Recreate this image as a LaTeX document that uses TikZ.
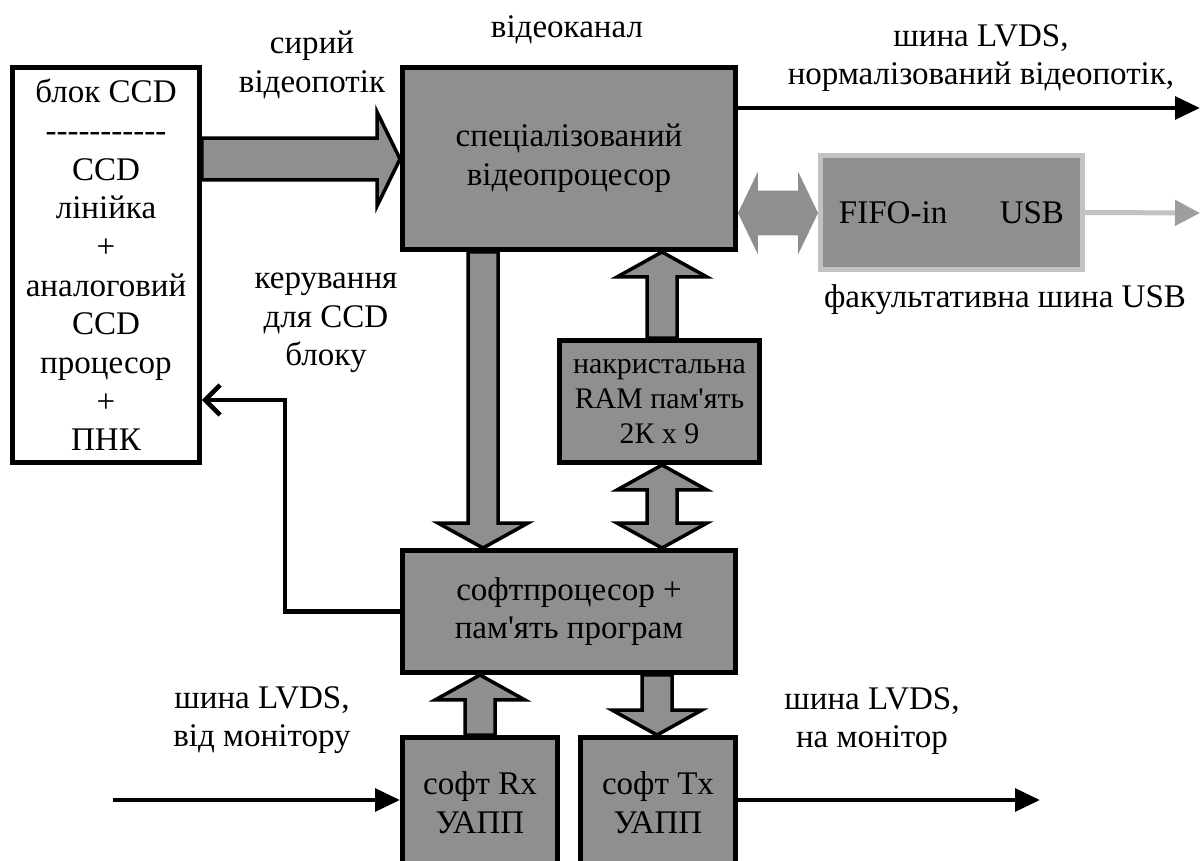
\documentclass[tikz,border=0pt]{standalone}
\usepackage{fontspec}
\setmainfont{Liberation Serif}
\usetikzlibrary{arrows.meta,calc}
\definecolor{BGray}{rgb}{0.56,0.56,0.56}
\definecolor{LGray}{rgb}{0.76,0.76,0.76}
\definecolor{MGray}{rgb}{0.62,0.62,0.62}
\tikzset{
  blk/.style={draw, line width=0.1cm, fill=BGray, align=center, inner sep=0pt},
  fat/.style={fill=BGray, draw=black, line width=0.07cm, line join=miter},
  wire/.style={line width=0.09cm, -{Triangle[length=0.5cm,width=0.45cm]}},
  lbl/.style={align=center, inner sep=0pt}}
\newcommand{\hy}{\mbox{-}}
\newcommand{\ap}{\textquotesingle}
% fat arrow, vertical: x (px), tail, tip
\newcommand{\fatv}[3]{%
  \filldraw[fat] let \p1=(#1,0 |- #2), \p2=(#1,0 |- #3),
    \n1={0.5cm*(\y2-\y1)/abs(\y2-\y1)} in
    ({\x1-0.3cm},\y1) -- ({\x1-0.3cm},{\y2-\n1}) -- ({\x1-0.9cm},{\y2-\n1}) -- (\x2,\y2)
    -- ({\x1+0.9cm},{\y2-\n1}) -- ({\x1+0.3cm},{\y2-\n1}) -- ({\x1+0.3cm},\y1) -- cycle;}
% same, with two heads
\newcommand{\fatvv}[3]{%
  \filldraw[fat] let \p1=(#1,0 |- #2), \p2=(#1,0 |- #3),
    \n1={0.5cm*(\y2-\y1)/abs(\y2-\y1)} in
    (\x1,\y1) -- ({\x1-0.9cm},{\y1+\n1}) -- ({\x1-0.3cm},{\y1+\n1}) -- ({\x1-0.3cm},{\y2-\n1})
    -- ({\x1-0.9cm},{\y2-\n1}) -- (\x2,\y2) -- ({\x1+0.9cm},{\y2-\n1}) -- ({\x1+0.3cm},{\y2-\n1})
    -- ({\x1+0.3cm},{\y1+\n1}) -- ({\x1+0.9cm},{\y1+\n1}) -- cycle;}

\begin{document}
\begin{tikzpicture}[x=0.02cm, y=-0.02cm, font=\fontsize{18.8}{22}\selectfont]
\useasboundingbox (0,0) rectangle (1200,861);

% blocks
\node[blk, fill=white, minimum width=3.74cm, minimum height=7.9cm] (ccd) at (106,265)
  {блок CCD\\\hy\hy\hy\hy\hy\hy\hy\hy\hy\hy\hy\\CCD\\лінійка\\+\\аналоговий\\CCD\\процесор\\+\\ПНК};
\node[blk, minimum width=6.66cm, minimum height=3.64cm] (vp) at (569,158.5) {спеціалізований\\відеопроцесор};
\node[blk, draw=LGray, minimum width=5.24cm, minimum height=2.28cm] (fifo) at (951.5,212.5) {FIFO-in\hspace{1.05cm}USB};
\node[blk, minimum width=4cm, minimum height=2.44cm, font=\fontsize{17}{20}\selectfont] (ram) at (659.5,401.5)
  {накристальна\\RAM пам\ap ять\\2К х 9};
\node[blk, minimum width=6.66cm, minimum height=2.44cm] (soft) at (569,611.5) {софтпроцесор +\\пам\ap ять програм};
\node[blk, minimum width=3.1cm, minimum height=2.6cm] (rx) at (480,802.5) {софт Rx\\УАПП};
\node[blk, minimum width=3.1cm, minimum height=2.6cm] (tx) at (658,802.5) {софт Tx\\УАПП};

% labels
\node[lbl] (lraw) at (312,65) {сирий\\відеопотік};
\node[lbl] (lvc) at (567,30) {відеоканал};
\node[lbl] (lout) at (981,58) {шина LVDS,\\нормалізований відеопотік,};
\node[lbl] (lusb) at (1005,300) {факультативна шина USB};
\node[lbl] (lctl) at (326,323) {керування\\для CCD\\блоку};
\node[lbl] (lin) at (262,720) {шина LVDS,\\від монітору};
\node[lbl] (ltx) at (872,721) {шина LVDS,\\на монітор};

\coordinate (vout) at (1200,108);
\coordinate (uout) at (1200,213);
\coordinate (rin) at (113,800);
\coordinate (tout) at (1040,800);
\coordinate (fbk) at (285,400);

% thin links
\draw[wire] (vp.east |- vout) -- (vout);
\draw[wire, draw=LGray, line width=0.1cm, -{Triangle[length=0.5cm,width=0.5cm,color=MGray]}] (fifo.east) -- (uout);
\draw[wire] (rin) -- (rx.west |- rin);
\draw[wire] (tx.east |- tout) -- (tout);
\draw[wire, -{Straight Barb[length=0.3cm,width=0.6cm]}] (soft.west) -| (fbk) -- (ccd.east |- fbk);

% fat links
\filldraw[fat] let \p1=(ccd.east |- 0,159), \p2=(vp.west |- 0,159) in
  (\x1,{\y1+0.42cm}) -- ({\x2-0.46cm},{\y1+0.42cm}) -- ({\x2-0.46cm},{\y1+0.94cm}) -- (\x2,\y2)
  -- ({\x2-0.46cm},{\y1-0.94cm}) -- ({\x2-0.46cm},{\y1-0.42cm}) -- (\x1,{\y1-0.42cm}) -- cycle;
\fill[BGray] let \p1=(vp.east |- 0,213), \p2=(fifo.west |- 0,213) in
  (\x1,\y1) -- ({\x1+0.4cm},{\y1+0.83cm}) -- ({\x1+0.4cm},{\y1+0.45cm}) -- ({\x2-0.4cm},{\y1+0.45cm})
  -- ({\x2-0.4cm},{\y1+0.83cm}) -- (\x2,\y2) -- ({\x2-0.4cm},{\y1-0.83cm}) -- ({\x2-0.4cm},{\y1-0.45cm})
  -- ({\x1+0.4cm},{\y1-0.45cm}) -- ({\x1+0.4cm},{\y1-0.83cm}) -- cycle;
\fatv{483}{vp.south}{soft.north}
\fatv{662}{ram.north}{vp.south}
\fatvv{662}{ram.south}{soft.north}
\fatv{480}{rx.north}{soft.south}
\fatv{657}{soft.south}{tx.north}
\end{tikzpicture}
\end{document}
